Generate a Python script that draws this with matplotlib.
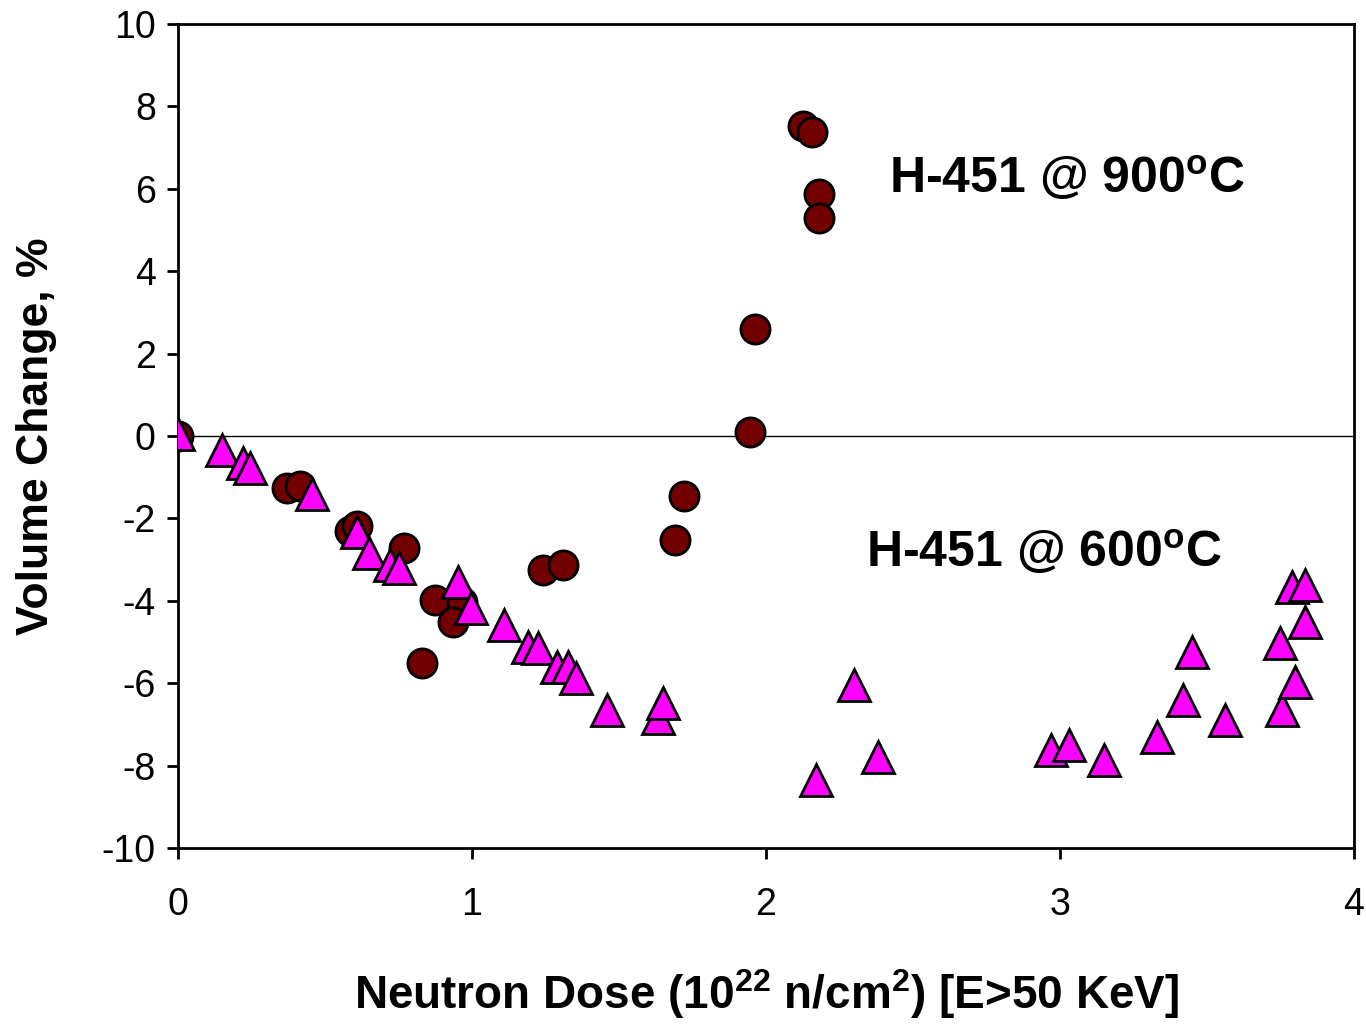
#Volume change of H-451 graphite vs neutron dose
import numpy as np
import matplotlib.pyplot as plt

plt.rcParams['font.family'] = ['Liberation Sans', 'DejaVu Sans']
plt.rcParams['axes.unicode_minus'] = False

#datos: H-451 @ 900 C (circulos)
dose_900 = [0.0, 0.37, 0.415, 0.585, 0.61, 0.77, 0.874, 0.966, 0.935, 0.83,
            1.24, 1.31, 1.69, 1.72, 1.946, 1.963, 2.126, 2.156, 2.18, 2.18]
vol_900 = [0.0, -1.26, -1.21, -2.3, -2.18, -2.72, -3.98, -4.03, -4.51, -5.5,
           -3.25, -3.13, -2.52, -1.46, 0.1, 2.6, 7.52, 7.38, 5.87, 5.29]

#H-451 @ 600 C (triangulos)
dose_600 = [0.0, 0.15, 0.22, 0.245, 0.455, 0.61, 0.65, 0.72, 0.753, 0.953,
            0.997, 1.11, 1.19, 1.224, 1.29, 1.327, 1.354, 1.46, 1.633, 1.65,
            2.30, 2.17, 2.38, 2.97, 3.03, 3.15, 3.33, 3.42, 3.45, 3.56,
            3.75, 3.755, 3.80, 3.835, 3.79, 3.835]
vol_600 = [0.05, -0.34, -0.65, -0.78, -1.42, -2.33, -2.83, -3.12, -3.2, -3.55,
           -4.17, -4.58, -5.12, -5.15, -5.6, -5.6, -5.88, -6.65, -6.85, -6.48,
           -6.05, -8.35, -7.8, -7.62, -7.5, -7.87, -7.3, -6.4, -5.24, -6.89,
           -5.03, -6.65, -5.97, -4.51, -3.66, -3.62]

xticks = [0, 1, 2, 3, 4]
yticks = list(range(-10, 11, 2))

fig = plt.figure(figsize=(13.66, 10.29), dpi=100)
ax = fig.add_axes([0.1303, 0.1759, 0.8609, 0.8008])

ax.axhline(0, color='black', lw=1.0, zorder=1) #linea de cero
ax.plot(dose_900, vol_900, 'o', ms=21, mfc='#720000', mec='black', mew=2, zorder=2)
ax.plot(dose_600, vol_600, '^', ms=23, mfc='#FF00FF', mec='black', mew=2, zorder=3)

ax.set_xlim(0, 4)
ax.set_ylim(-10, 10)
ax.set_xticks(xticks)
ax.set_yticks(yticks)
ax.tick_params(direction='out', length=8, width=2, labelsize=27)
ax.tick_params(axis='x', pad=20)
ax.tick_params(axis='y', pad=8)
for s in ax.spines.values():
    s.set_linewidth(2)

ax.set_xlabel('Neutron Dose (10$^{\\mathregular{22}}$ n/cm$^{\\mathregular{2}}$) [E>50 KeV]',
              fontsize=33, fontweight='bold', labelpad=32)
ax.set_ylabel('Volume Change, %', fontsize=32, fontweight='bold', labelpad=32)

ax.text(2.42, 6.25, 'H-451 @ 900$^{\\mathregular{o}}$C', fontsize=36, fontweight='bold',
        ha='left', va='center')
ax.text(2.34, -2.82, 'H-451 @ 600$^{\\mathregular{o}}$C', fontsize=36, fontweight='bold',
        ha='left', va='center')

fig.savefig('out.png', dpi=100)
